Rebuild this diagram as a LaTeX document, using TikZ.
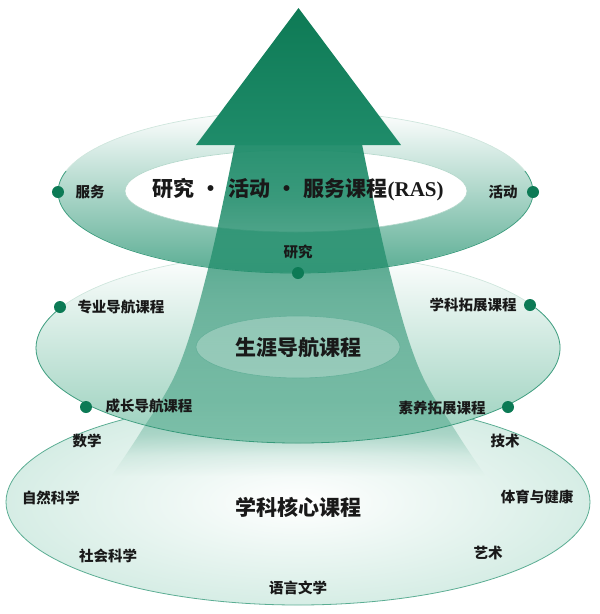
\documentclass[tikz,border=0pt]{standalone}
\usepackage{fontspec}
\newfontfamily\cjk{Noto Sans CJK SC}
\newfontfamily\latinserif{Liberation Serif}
\usetikzlibrary{fadings}
\definecolor{arrowtop}{HTML}{0E7A55}
\definecolor{arrowbot}{HTML}{1F8C6A}
\definecolor{dotgreen}{HTML}{0C7A55}
\definecolor{ringgreen}{HTML}{5AAD93}
\definecolor{ringmid}{HTML}{E2F1EB}
\definecolor{rimline}{HTML}{3E9E80}
\definecolor{rimlight}{HTML}{CFE6DD}
\definecolor{midbot}{HTML}{97CFBB}
\definecolor{midmid}{HTML}{D6ECE3}
\definecolor{baseouter}{HTML}{D6EDE5}
\pgfdeclareverticalshading{shaftshade}{100bp}{color(0bp)=(black); color(26bp)=(black); color(29bp)=(black!92); color(32bp)=(black!74); color(37bp)=(black!60); color(42bp)=(black!52); color(52bp)=(black!38); color(67bp)=(black!12); color(75bp)=(black!5); color(100bp)=(black!5)}
\pgfdeclarefading{shaftfade}{\pgfuseshading{shaftshade}}
\tikzset{
  lab/.style={font=\cjk\bfseries\fontsize{14.5}{16}\selectfont, inner sep=0pt, text=black!90},
  bigtitle/.style={font=\cjk\bfseries\fontsize{21}{24}\selectfont, inner sep=0pt, text=black!90},
  gdot/.style={circle, fill=dotgreen, minimum size=12pt, inner sep=0pt},
}
\begin{document}
\begin{tikzpicture}[x=1pt, y=-1pt]
\useasboundingbox (0,0) rectangle (600,614);
% bottom ellipse
\shade[inner color=white, outer color=baseouter] (298,502) ellipse [x radius=292, y radius=103];
\draw[rimline!85, line width=0.8pt] (298,502) ellipse [x radius=292, y radius=103];
% middle ellipse
\shade[top color=white, middle color=midmid, bottom color=midbot] (298,348) ellipse [x radius=262, y radius=95];
\draw[rimlight, line width=0.7pt] (298,348) ellipse [x radius=262, y radius=95];
\draw[rimline, line width=0.8pt] (298,348) ++(-25:262 and 95) arc[start angle=-25, end angle=205, x radius=262, y radius=95];
% top ring
\shade[top color=white, middle color=ringmid, bottom color=ringgreen] (295.5,192) ellipse [x radius=237.5, y radius=81];
\draw[rimlight, line width=0.7pt] (295.5,192) ellipse [x radius=237.5, y radius=81];
\draw[rimline, line width=0.8pt] (295.5,192) ++(-15:237.5 and 81) arc[start angle=-15, end angle=195, x radius=237.5, y radius=81];
\fill[white] (296,191) ellipse [x radius=171, y radius=41];
\draw[rimlight!80!rimline, line width=0.6pt] (296,191) ellipse [x radius=171, y radius=41];
% arrow
\fill[arrowbot, path fading=shaftfade] (235,144) -- plot[smooth, tension=0.6] coordinates {(362,144) (388.5,267) (418.5,367) (457,433) (490,482)} -- plot[smooth, tension=0.6] coordinates {(107,482) (140,433) (178.5,367) (208.5,267) (235,144)} -- cycle;
\shade[top color=arrowtop, bottom color=arrowbot] (298.5,8) -- (401,145) -- (196,145) -- cycle;
% middle inner ellipse
\fill[white, fill opacity=0.25] (298,347) ellipse [x radius=102, y radius=31];
\draw[rimline!80, line width=0.6pt] (298,347) ellipse [x radius=102, y radius=31];
% dots
\node[gdot] (d-fuwu) at (58,192) {};
\node[gdot] (d-huodong) at (533,192) {};
\node[gdot] (d-yanjiu) at (298,273) {};
\node[gdot] (d-zhuanye) at (60,307) {};
\node[gdot] (d-xueke) at (530,305) {};
\node[gdot] (d-chengzhang) at (86,407) {};
\node[gdot] (d-suyang) at (508,407) {};
% titles
\node[bigtitle] (t-ras) at (298,190) {研究\hspace{0.3em}·\hspace{0.3em}活动\hspace{0.3em}·\hspace{0.3em}服务课程{\latinserif\bfseries (RAS)}};
\node[bigtitle] (t-shengya) at (298,348) {生涯导航课程};
\node[bigtitle] (t-hexin) at (298,507) {学科核心课程};
% labels
\node[lab] (l-fuwu) at (90,192) {服务};
\node[lab] (l-huodong) at (503,192) {活动};
\node[lab] (l-yanjiu) at (298,252) {研究};
\node[lab] (l-zhuanye) at (121,307) {专业导航课程};
\node[lab] (l-xueke) at (473,305) {学科拓展课程};
\node[lab] (l-chengzhang) at (149,406) {成长导航课程};
\node[lab] (l-suyang) at (442,408) {素养拓展课程};
\node[lab] (l-shuxue) at (87,441) {数学};
\node[lab] (l-jishu) at (505,441) {技术};
\node[lab] (l-ziran) at (51,498) {自然科学};
\node[lab] (l-tiyu) at (537,497) {体育与健康};
\node[lab] (l-shehui) at (108,556) {社会科学};
\node[lab] (l-yishu) at (488,553) {艺术};
\node[lab] (l-yuyan) at (298,588) {语言文学};
\end{tikzpicture}
\end{document}
